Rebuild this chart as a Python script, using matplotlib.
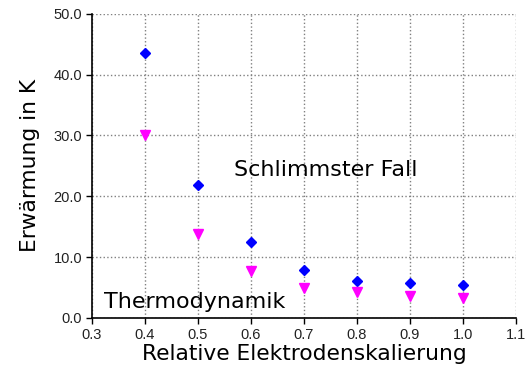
import numpy as np
import matplotlib.pyplot as plt

# Skalierung der Elektroden und Erwärmung
skalierung = [0.4, 0.5, 0.6, 0.7, 0.8, 0.9, 1.0]
schlimmster_fall = [43.6, 21.9, 12.5, 7.9, 6.1, 5.7, 5.4]
thermodynamik = [30.1, 13.8, 7.7, 4.9, 4.3, 3.6, 3.3]

xticks = np.arange(0.3, 1.11, 0.1)
yticks = np.arange(0, 50.1, 10)

fig = plt.figure(figsize=(5.32, 3.74), dpi=100)
ax = fig.add_axes([0.173, 0.150, 0.797, 0.813])

ax.plot(skalierung, schlimmster_fall, linestyle='none', marker='D',
        color='#0000ff', markersize=5.5, zorder=3, clip_on=False)
ax.plot(skalierung, thermodynamik, linestyle='none', marker='v',
        color='#ff00ff', markersize=7, zorder=3, clip_on=False)

ax.set_xlim(0.3, 1.1)
ax.set_ylim(0, 50)
ax.set_xticks(xticks)
ax.set_xticklabels(['%.1f' % v for v in xticks], family='Liberation Sans', fontsize=10.5, color='#222222')
ax.set_yticks(yticks)
ax.set_yticklabels(['%.1f' % v for v in yticks], family='Liberation Sans', fontsize=10.5, color='#222222')
ax.tick_params(direction='out', length=4, width=1, color='black', pad=3)

ax.grid(True, linestyle=':', color='#808080', linewidth=1)
ax.set_axisbelow(True)
ax.spines['top'].set_visible(False)
ax.spines['right'].set_visible(False)
ax.spines['left'].set_linewidth(1.2)
ax.spines['bottom'].set_linewidth(1.2)

ax.set_xlabel('Relative Elektrodenskalierung', family='DejaVu Sans', fontsize=15.7, labelpad=2)
ax.set_ylabel('Erwärmung in K', family='DejaVu Sans', fontsize=15.7, labelpad=10)

ax.text(0.568, 24.3, 'Schlimmster Fall', family='DejaVu Sans', fontsize=16, va='center', ha='left')
ax.text(0.3226, 2.6, 'Thermodynamik', family='DejaVu Sans', fontsize=16, va='center', ha='left')

fig.savefig('out.png', dpi=100)
